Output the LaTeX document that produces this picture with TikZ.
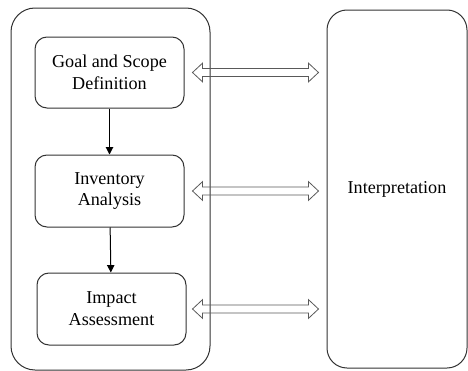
\documentclass[tikz,border=0pt]{standalone}
\usepackage{fontspec}
\setmainfont{Liberation Serif}
\usetikzlibrary{arrows.meta,calc}

\begin{document}
\begin{tikzpicture}[x=0.75pt,y=0.75pt,yscale=-1]
\useasboundingbox (0,0) rectangle (468,371);
\tikzset{
  phasebox/.style={draw=black!80, line width=0.75pt, rounded corners=9pt, align=center,
    font=\fontsize{13.6}{16.3}\selectfont, inner sep=0pt},
  framebox/.style={draw=black!80, line width=0.75pt, rounded corners=18pt, inner sep=0pt},
  flow/.style={draw=black, line width=0.75pt, -{Triangle[width=5.5pt,length=5.5pt]}},
  link/.style={draw=black!65, line width=0.6pt, line join=miter,
    to path={let \p1=(\tikztostart), \p2=(\tikztotarget) in
      (\p1) -- (\x1+7.5pt,\y1+7pt) -- (\x1+7.5pt,\y1+3pt) -- (\x2-7.5pt,\y1+3pt)
      -- (\x2-7.5pt,\y1+7pt) -- (\x2,\y1) -- (\x2-7.5pt,\y1-7pt) -- (\x2-7.5pt,\y1-3pt)
      -- (\x1+7.5pt,\y1-3pt) -- (\x1+7.5pt,\y1-7pt) -- cycle}}
}

%Frame: phases
\node [framebox, minimum width=149.25pt, minimum height=271.5pt] (phases) at (110.5,189) {};
%Frame: interpretation
\node [framebox, rounded corners=15pt, minimum width=105pt, minimum height=268.5pt,
  font=\fontsize{13.6}{16.3}\selectfont] (interp) at (397,189) {Interpretation};

% Phase boxes
\node [phasebox, minimum width=111.75pt, minimum height=53.25pt] (goal) at (109.5,72.5) {Goal and Scope\\Definition};
\node [phasebox, minimum width=111.75pt, minimum height=54pt] (invent) at (109.5,191) {Inventory\\Analysis};
\node [phasebox, minimum width=111.75pt, minimum height=54pt] (impact) at (111.5,309) {Impact\\Assessment};

% Flow
\draw [flow] (goal) -- (invent);
\draw [flow] (invent) -- (impact);

% Links to interpretation
\draw [link] ([xshift=6pt]goal.east) to ([xshift=-6pt]interp.west |- goal.east);
\draw [link] ([xshift=6pt]invent.east) to ([xshift=-6pt]interp.west |- invent.east);
\draw [link] ([xshift=4.5pt]impact.east) to ([xshift=-6pt]interp.west |- impact.east);

\end{tikzpicture}
\end{document}
